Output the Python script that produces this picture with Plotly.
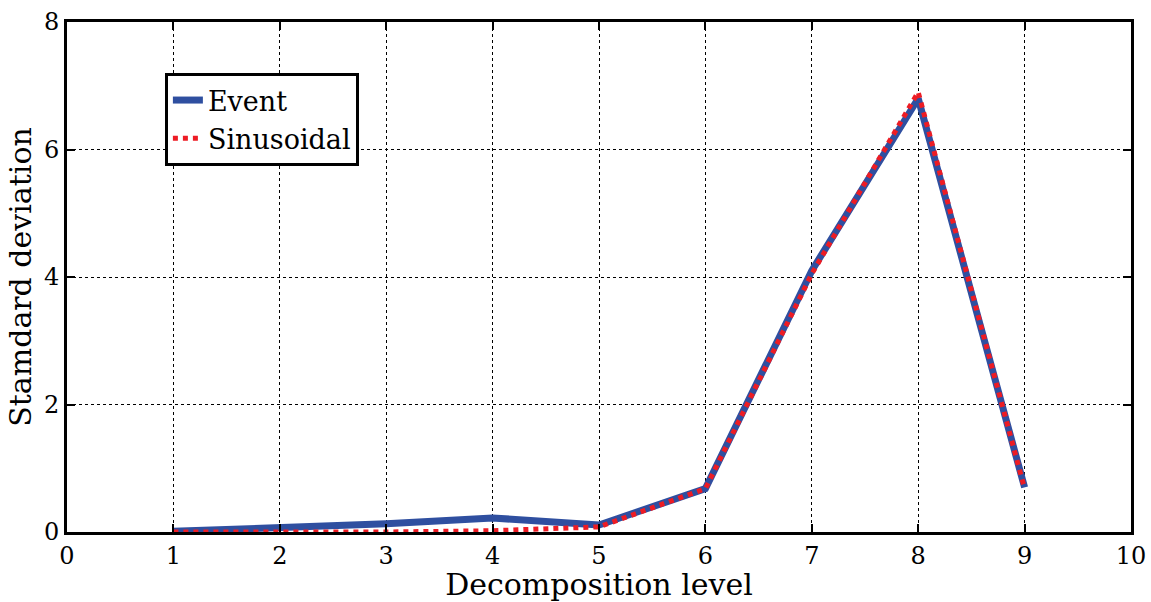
import plotly.graph_objects as go

levels = [1, 2, 3, 4, 5, 6, 7, 8, 9]
event = [0.01, 0.06, 0.13, 0.22, 0.11, 0.68, 4.1, 6.8, 0.7]
sinusoidal = [0.0, 0.0, 0.0, 0.02, 0.08, 0.68, 4.05, 6.9, 0.68]

FONT = "DejaVu Serif"

fig = go.Figure()
fig.add_trace(go.Scatter(x=levels, y=event, mode="lines", name="Event",
                         line=dict(color="rgb(47,79,160)", width=7)))
fig.add_trace(go.Scatter(x=levels, y=sinusoidal, mode="lines", name="Sinusoidal",
                         line=dict(color="rgb(237,28,36)", width=5, dash="dot")))

axis_common = dict(showline=True, linecolor="black", linewidth=3, mirror="ticks",
                   ticks="inside", ticklen=8, tickwidth=2, tickcolor="black",
                   showgrid=True, gridcolor="black", gridwidth=1, griddash="dot",
                   zeroline=False, automargin=False,
                   tickfont=dict(family=FONT, size=24, color="black"))

fig.update_layout(
    width=1151, height=602,
    margin=dict(l=67, r=20, t=22, b=70),
    paper_bgcolor="white", plot_bgcolor="white",
    font=dict(family=FONT, color="black"),
    xaxis=dict(range=[0, 10], tickvals=list(range(0, 11)),
               title=dict(text="Decomposition level", font=dict(family=FONT, size=30), standoff=3),
               **axis_common),
    yaxis=dict(range=[0, 8], tickvals=[0, 2, 4, 6, 8],
               title=dict(text="Stamdard deviation", font=dict(family=FONT, size=30), standoff=4),
               **axis_common),
    legend=dict(x=0.092, y=0.9, xanchor="left", yanchor="top",
                bordercolor="black", borderwidth=3, bgcolor="white",
                font=dict(family=FONT, size=27, color="black"),
                itemwidth=30, tracegroupgap=0),
)

fig.write_html("out.html")
